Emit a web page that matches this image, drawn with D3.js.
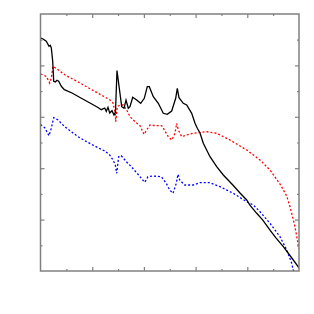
<!DOCTYPE html>
<html>
<head>
<meta charset="utf-8">
<script src="https://cdn.jsdelivr.net/npm/d3@7"></script>
<style>
  body { margin: 0; background: #fff; }
</style>
</head>
<body>
<div id="chart"></div>
<script>
// series, x and y both on a 0..10 scale
const blackX = [0.01, 0.097, 0.224, 0.329, 0.379, 0.418, 0.472, 0.511, 0.573, 0.638, 0.704, 0.805, 0.923,
  1.219, 1.528, 1.915, 2.224, 2.352, 2.484, 2.545, 2.611, 2.677, 2.766, 2.843, 2.901, 2.959, 3.037,
  3.141, 3.23, 3.308, 3.396, 3.462, 3.567, 3.721, 3.876, 4.015, 4.131, 4.209, 4.364, 4.557, 4.75,
  4.905, 5.075, 5.23, 5.292, 5.358, 5.524, 5.656, 5.849, 5.977, 6.066, 6.17, 6.298, 6.557, 6.816,
  7.072, 7.458, 7.718, 7.977, 8.1, 8.364, 8.6, 8.878, 9.1, 9.393, 9.55, 9.78, 10.0];
const blackY = [9.066, 9.027, 8.938, 8.743, 8.782, 8.677, 8.16, 7.381, 7.354, 7.42, 7.381, 7.187, 7.054,
  6.926, 6.751, 6.537, 6.362, 6.276, 6.342, 6.214, 6.37, 6.148, 6.237, 6.07, 6.187, 7.802, 7.198,
  6.393, 6.331, 6.654, 6.331, 6.393, 6.759, 6.654, 6.525, 6.72, 7.171, 7.171, 6.782, 6.525, 6.136,
  6.097, 6.226, 6.72, 7.109, 6.743, 6.525, 6.459, 6.136, 5.747, 5.553, 5.37, 4.969, 4.447, 4.058,
  3.735, 3.327, 3.035, 2.763, 2.56, 2.245, 1.98, 1.595, 1.3, 0.946, 0.74, 0.428, 0.117];

const redX = [0.008, 0.224, 0.356, 0.418, 0.484, 0.677, 0.936, 1.528, 2.108, 2.677, 2.805, 2.894, 2.909,
  2.971, 3.075, 3.203, 3.335, 3.462, 3.656, 3.849, 4.004, 4.108, 4.236, 4.495, 4.689, 4.816, 4.944,
  5.075, 5.203, 5.269, 5.331, 5.462, 5.656, 5.911, 6.429, 6.816, 7.331, 7.977, 8.491, 8.878, 9.265,
  9.524, 9.652, 9.845, 10.0];
const redY = [7.665, 7.576, 7.315, 7.51, 7.965, 7.833, 7.638, 7.315, 6.984, 6.665, 6.537, 6.148, 5.809,
  6.393, 6.459, 6.459, 6.265, 6.004, 5.809, 5.654, 5.319, 5.486, 5.681, 5.654, 5.654, 5.447, 5.226,
  5.097, 5.358, 5.747, 5.486, 5.226, 5.292, 5.358, 5.42, 5.358, 5.097, 4.708, 4.319, 3.93, 3.385,
  2.918, 2.502, 1.724, 0.856];

const blueX = [0.0, 0.162, 0.329, 0.418, 0.511, 0.677, 0.936, 1.451, 1.965, 2.484, 2.677, 2.805, 2.894,
  2.948, 3.025, 3.126, 3.319, 3.513, 3.772, 4.031, 4.159, 4.352, 4.673, 4.867, 4.998, 5.126, 5.253,
  5.319, 5.385, 5.578, 5.911, 6.17, 6.557, 6.944, 7.458, 7.977, 8.232, 8.491, 8.878, 9.265, 9.524,
  9.718, 9.845];
const blueY = [5.7, 5.576, 5.265, 5.553, 5.965, 5.875, 5.615, 5.226, 4.93, 4.669, 4.514, 4.319, 4.125,
  3.802, 4.447, 4.486, 4.253, 4.058, 3.763, 3.451, 3.669, 3.696, 3.669, 3.412, 3.152, 3.023, 3.412,
  3.763, 3.541, 3.346, 3.346, 3.436, 3.436, 3.28, 3.023, 2.696, 2.568, 2.307, 1.856, 1.335, 0.817,
  0.3, -0.272];

const tickValues = [1, 2, 3, 4, 5, 6, 7, 8, 9];

const width = 314, height = 314;
const plotLeft = 40.5, plotRight = 299, plotTop = 14, plotBottom = 271;

const svg = d3.select("#chart").append("svg")
  .attr("width", width)
  .attr("height", height);

const x = d3.scaleLinear().domain([0, 10]).range([plotLeft, plotRight]);
const y = d3.scaleLinear().domain([0, 10]).range([plotBottom, plotTop]);

svg.append("clipPath").attr("id", "plot")
  .append("rect")
  .attr("x", plotLeft).attr("y", plotTop)
  .attr("width", plotRight - plotLeft).attr("height", plotBottom - plotTop);

const line = d3.line().x(d => x(d[0])).y(d => y(d[1]));

const series = [
  { xs: redX, ys: redY, color: "#ff0000", dash: "2,2" },
  { xs: blueX, ys: blueY, color: "#0000ff", dash: "2,2" },
  { xs: blackX, ys: blackY, color: "#000000", dash: null }
];

series.forEach(s => {
  svg.append("path")
    .datum(s.xs.map((v, i) => [v, s.ys[i]]))
    .attr("clip-path", "url(#plot)")
    .attr("fill", "none")
    .attr("stroke", s.color)
    .attr("stroke-width", 1.3)
    .attr("stroke-dasharray", s.dash)
    .attr("d", line);
});

// inward ticks on all four sides, long on even values, short on odd
function drawAxis(maker, scale, transform) {
  [[v => v % 2 === 0, 4], [v => v % 2 === 1, 2]].forEach(([keep, len]) => {
    const g = svg.append("g")
      .attr("transform", transform)
      .call(maker(scale).tickValues(tickValues.filter(keep)).tickSize(-len).tickFormat(""));
    g.select(".domain").remove();
    g.selectAll(".tick line").attr("stroke", "#808080").attr("stroke-width", 1.2);
  });
}
drawAxis(d3.axisBottom, x, `translate(0,${plotBottom})`);
drawAxis(d3.axisTop, x, `translate(0,${plotTop})`);
drawAxis(d3.axisLeft, y, `translate(${plotLeft},0)`);
drawAxis(d3.axisRight, y, `translate(${plotRight},0)`);

svg.append("rect")
  .attr("x", plotLeft).attr("y", plotTop)
  .attr("width", plotRight - plotLeft).attr("height", plotBottom - plotTop)
  .attr("fill", "none")
  .attr("stroke", "#808080")
  .attr("stroke-width", 1.5);
</script>
</body>
</html>
